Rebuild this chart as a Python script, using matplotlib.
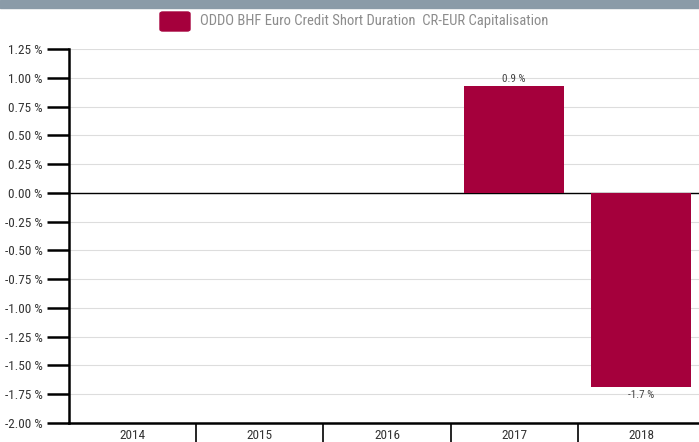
import matplotlib
matplotlib.use('Agg')
import matplotlib.pyplot as plt
from matplotlib.patches import FancyBboxPatch, Rectangle
from matplotlib import font_manager

years = ['2014', '2015', '2016', '2017', '2018']
returns = [None, None, None, 0.93, -1.69]
value_labels = ['', '', '', '0.9 %', '-1.7 %']
series_name = 'ODDO BHF Euro Credit Short Duration  CR-EUR Capitalisation'
yticks = [1.25, 1.00, 0.75, 0.50, 0.25, 0.00, -0.25, -0.50, -0.75, -1.00, -1.25, -1.50, -1.75, -2.00]

# pick a narrow-ish font if available
names = {f.name for f in font_manager.fontManager.ttflist}
family = 'Lato'
for cand in ['Liberation Sans Narrow', 'Roboto Condensed', 'Open Sans Condensed', 'Lato']:
    if cand in names:
        family = cand
        break
plt.rcParams['font.family'] = [family, 'DejaVu Sans']

bar_color = '#a5003c'
W, H = 699, 442
fig = plt.figure(figsize=(W / 100, H / 100), dpi=100)

# grey band on top
fig.patches.append(Rectangle((0, 1 - 8 / H), 1, 8 / H, transform=fig.transFigure,
                             color='#8a9ba8', zorder=0))

ax = fig.add_axes([69 / W, 19 / H, (705 - 69) / W, (423 - 49) / H])

x = list(range(len(years)))
for i, v in enumerate(returns):
    if v is None:
        continue
    ax.bar(i, v, width=0.785, color=bar_color, zorder=3)
    off = 0.02 if v > 0 else -0.02
    ax.text(i, v + off, value_labels[i], ha='center', va='bottom' if v > 0 else 'top',
            fontsize=8, color='#444444', zorder=4)

ax.set_ylim(-2.0, 1.25)
ax.set_xlim(-0.5, 4.5)
ax.set_yticks(yticks)
ax.set_yticklabels([f'{t:.2f} %' for t in yticks], fontsize=9.5, color='#333333')
ax.grid(axis='y', color='#dddddd', linewidth=0.8, zorder=0)
ax.axhline(0, color='black', linewidth=1, zorder=2)

ax.set_xticks(x)
ax.set_xticklabels(years, fontsize=9.5, color='#333333')
ax.tick_params(axis='x', length=0, pad=4)
ax.set_xticks([i + 0.5 for i in x[:-1]], minor=True)
ax.tick_params(axis='x', which='minor', length=20, width=1.2, color='black')
ax.tick_params(axis='y', length=16, width=1.8, color='black', pad=3)

for s in ['top', 'right']:
    ax.spines[s].set_visible(False)
ax.spines['left'].set_linewidth(1.8)
ax.spines['bottom'].set_linewidth(1.8)

# legend
fig.patches.append(FancyBboxPatch((160 / W, 1 - 31 / H), 30 / W, 19 / H,
                                  boxstyle='round,pad=0,rounding_size=0.004',
                                  transform=fig.transFigure, color=bar_color))
fig.text(200 / W, 1 - 21 / H, series_name, fontsize=10.5, color='#8c8c8c', va='center')

fig.savefig('out.png', dpi=100)
